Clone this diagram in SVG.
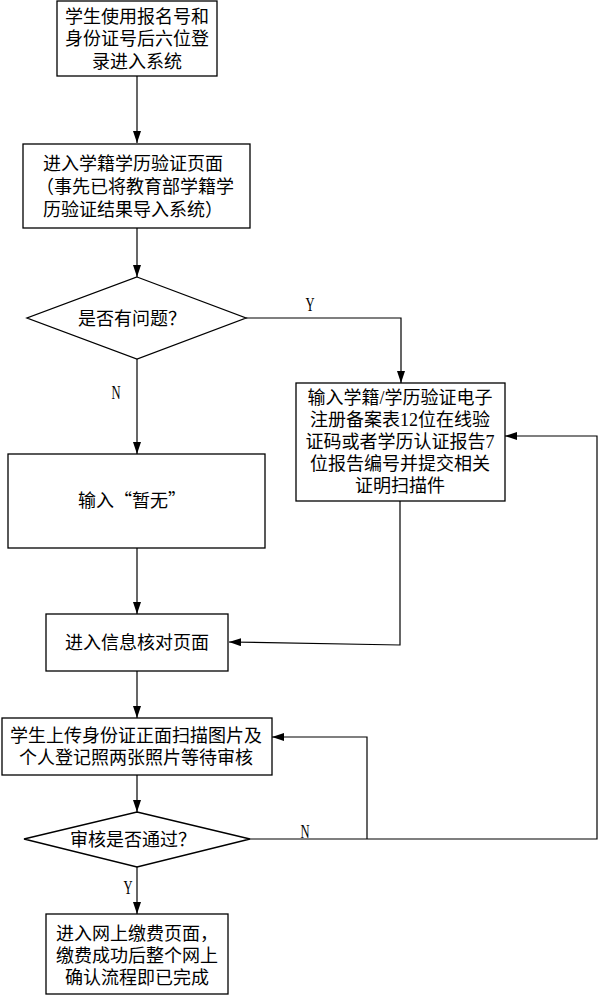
<svg xmlns="http://www.w3.org/2000/svg" width="598" height="995" viewBox="0 0 598 995">
<style>
.box{fill:#fff;stroke:#000;stroke-width:1.3}
.t{font-family:"Liberation Serif","Noto Sans CJK SC",serif;font-size:18px;fill:#000}
.cjk{font-family:"Noto Sans CJK SC",sans-serif}
.c{text-anchor:middle}
.lbl{font-family:"Liberation Serif",serif;font-size:18px;fill:#000;text-anchor:middle}
.ln{fill:none;stroke:#000;stroke-width:1.2}
</style>
<defs>
<marker id="ar" viewBox="0 0 12 8" refX="12" refY="4" markerWidth="12" markerHeight="8" markerUnits="userSpaceOnUse" orient="auto">
<path d="M0,0 L12,4 L0,8 z" fill="#000"/>
</marker>
</defs>
<rect width="598" height="995" fill="#fff"/>
<g id="connectors">
<path class="ln" d="M137,76 V143" marker-end="url(#ar)"/>
<path class="ln" d="M137,228 V277" marker-end="url(#ar)"/>
<path class="ln" d="M246,318 H401 V383" marker-end="url(#ar)"/>
<path class="ln" d="M137,359 V454" marker-end="url(#ar)"/>
<path class="ln" d="M137,548 V614" marker-end="url(#ar)"/>
<path class="ln" d="M400,501 V645 L229,642" marker-end="url(#ar)"/>
<path class="ln" d="M137,671 V718" marker-end="url(#ar)"/>
<path class="ln" d="M137,775 V812" marker-end="url(#ar)"/>
<path class="ln" d="M250,839 H597 V436 H505" marker-end="url(#ar)"/>
<path class="ln" d="M367,839 V737 H272" marker-end="url(#ar)"/>
<path class="ln" d="M137,867 V914" marker-end="url(#ar)"/>
<text class="lbl" transform="translate(310,311) scale(0.7,1)">Y</text>
<text class="lbl" transform="translate(116,399) scale(0.7,1)">N</text>
<text class="lbl" transform="translate(305,838) scale(0.7,1)">N</text>
<text class="lbl" transform="translate(128,894) scale(0.7,1)">Y</text>
</g>
<g id="n1">
<rect class="box" x="57" y="1" width="160" height="75"/>
<text class="t c" x="137" y="23">学生使用报名号和</text>
<text class="t c" x="137" y="45">身份证号后六位登</text>
<text class="t c" x="137" y="68">录进入系统</text>
</g>
<g id="n2">
<rect class="box" x="23" y="144" width="227" height="84"/>
<text class="t" x="43" y="170">进入学籍学历验证页面</text>
<text class="t" x="36" y="193">（事先已将教育部学籍学</text>
<text class="t" x="43" y="216">历验证结果导入系统）</text>
</g>
<g id="d1">
<polygon class="box" points="137,277 246,318 137,359 27,318"/>
<text class="t c" x="132" y="325">是否有问题？</text>
</g>
<g id="n3">
<rect class="box" x="296" y="383" width="209" height="118"/>
<text class="t c" x="400" y="404">输入学籍/学历验证电子</text>
<text class="t c" x="400" y="426">注册备案表12位在线验</text>
<text class="t c" x="400" y="448">证码或者学历认证报告7</text>
<text class="t c" x="400" y="470">位报告编号并提交相关</text>
<text class="t c" x="400" y="492">证明扫描件</text>
</g>
<g id="n4">
<rect class="box" x="8" y="454" width="257" height="94"/>
<text class="t cjk c" x="132" y="507">输入“暂无”</text>
</g>
<g id="n5">
<rect class="box" x="46" y="614" width="182" height="57"/>
<text class="t c" x="137" y="649">进入信息核对页面</text>
</g>
<g id="n6">
<rect class="box" x="2" y="718" width="270" height="57"/>
<text class="t c" x="136" y="742">学生上传身份证正面扫描图片及</text>
<text class="t c" x="136" y="764">个人登记照两张照片等待审核</text>
</g>
<g id="d2">
<polygon class="box" points="137,812 250,839 137,867 24,839"/>
<text class="t c" x="133" y="846">审核是否通过？</text>
</g>
<g id="n7">
<rect class="box" x="46" y="914" width="182" height="80"/>
<text class="t c" x="137" y="940">进入网上缴费页面，</text>
<text class="t c" x="137" y="962">缴费成功后整个网上</text>
<text class="t c" x="137" y="984">确认流程即已完成</text>
</g>
</svg>
